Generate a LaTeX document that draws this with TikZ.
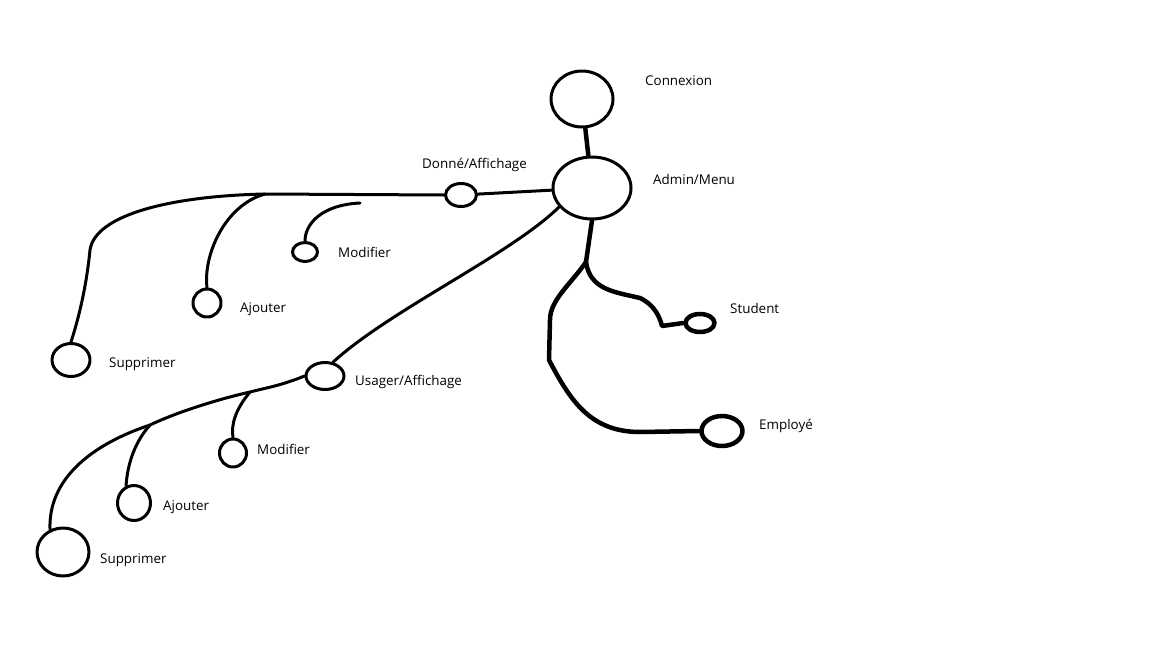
\documentclass[tikz,border=0pt]{standalone}
\usepackage{fontspec}
\setmainfont{Open Sans}
\usetikzlibrary{shapes.geometric}

\tikzset{
  blob/.style={draw=black,line width=3pt,ellipse,inner sep=0pt},
  bigblob/.style={blob,line width=4.5pt},
  lab/.style={anchor=west,inner sep=0pt,font=\fontsize{13.4}{15}\selectfont,text=black},
  wire/.style={line width=3pt,color=black},
  trunk/.style={line width=4.5pt,color=black}
}

\begin{document}
\begin{tikzpicture}[line cap=round,line join=round,x=1pt,y=-1pt]
        \useasboundingbox (0,0) rectangle (1152,648);
        % blobs
        \node[blob,minimum width=62pt,minimum height=56pt] (cnx) at (582,99) {};
        \node[blob,minimum width=78pt,minimum height=62pt] (adm) at (592,188) {};
        \node[blob,minimum width=31pt,minimum height=23pt] (donne) at (461,195) {};
        \node[blob,minimum width=38pt,minimum height=27pt] (usager) at (325,376) {};
        \node[bigblob,minimum width=29pt,minimum height=18pt] (student) at (700,323) {};
        \node[bigblob,minimum width=41pt,minimum height=30pt] (employe) at (722,431) {};
        \node[blob,minimum width=38pt,minimum height=33pt] (supA) at (71,360) {};
        \node[blob,minimum width=28pt,minimum height=28pt] (ajA) at (207,303) {};
        \node[blob,minimum width=25pt,minimum height=19pt] (modA) at (305,252) {};
        \node[blob,minimum width=52pt,minimum height=48pt] (supB) at (63,552) {};
        \node[blob,minimum width=33pt,minimum height=35pt] (ajB) at (134,503) {};
        \node[blob,minimum width=27pt,minimum height=28pt] (modB) at (233,453) {};
        % labels
        \node[lab] (tcnx) at (645,81) {Connexion};
        \node[lab] (tadm) at (653,179) {Admin/Menu};
        \node[lab] (tdonne) at (422,165) {Donné/Affichage};
        \node[lab] (tmodA) at (338,252) {Modifier};
        \node[lab] (tajA) at (240,309) {Ajouter};
        \node[lab] (tsupA) at (109,364) {Supprimer};
        \node[lab] (tusager) at (355,382) {Usager/Affichage};
        \node[lab] (tmodB) at (257,449) {Modifier};
        \node[lab] (tajB) at (163,507) {Ajouter};
        \node[lab] (tsupB) at (100,560) {Supprimer};
        \node[lab] (tstudent) at (730,308) {Student};
        \node[lab] (temploye) at (759,426) {Employé};
        % junctions
        \coordinate (jA) at (265,194);
        \coordinate (jM) at (360,203);
        \coordinate (jMB) at (250,392);
        \coordinate (jAB) at (150,425);
        \coordinate (jS) at (586,262);
        % admin side
        \draw[trunk] (cnx) -- (adm);
        \draw[wire] (adm) -- (donne);
        \draw[trunk] (adm.south) -- (jS);
        \draw[trunk] (jS) .. controls (590,290) and (615,292) .. (640,298) .. controls (655,305) and (660,318) .. (662,326) -- (student.west);
        \draw[trunk] (jS) .. controls (570,285) and (550,300) .. (550,320) -- (549,360) .. controls (570,400) and (590,432) .. (640,432) -- (employe.west);
        % donne branch
        \draw[wire] (donne.west) -- (jA) .. controls (170,196) and (95,215) .. (90,250) .. controls (86,290) and (78,320) .. (supA.north);
        \draw[wire] (jA) .. controls (225,205) and (203,255) .. (ajA.north);
        \draw[wire] (jM) .. controls (320,205) and (305,225) .. (modA.north);
        % usager branch
        \draw[wire] (adm.210) .. controls (510,255) and (390,310) .. (usager.60);
        \draw[wire] (usager.west) .. controls (280,386) and (265,388) .. (jMB) .. controls (215,400) and (175,413) .. (jAB) .. controls (90,445) and (48,480) .. (supB.120);
        \draw[wire] (jMB) .. controls (235,410) and (231,425) .. (modB.north);
        \draw[wire] (jAB) .. controls (132,445) and (127,470) .. (ajB.115);
\end{tikzpicture}
\end{document}
